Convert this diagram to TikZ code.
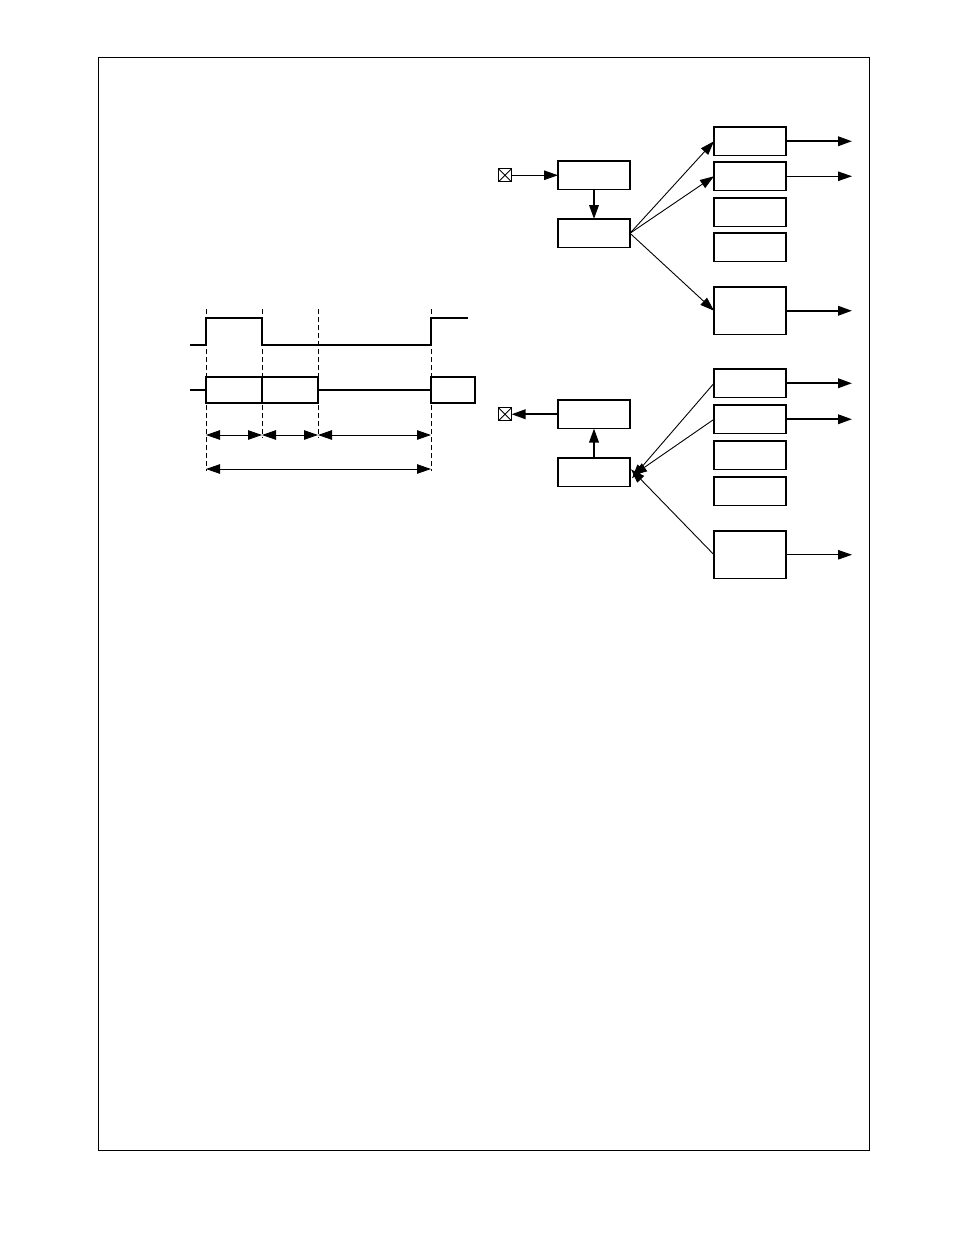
\documentclass[tikz,border=0pt]{standalone}
\usetikzlibrary{arrows.meta}
\begin{document}
\begin{tikzpicture}[x=1pt,y=-1pt,
  blk/.style={draw,line width=1.8pt,minimum width=72pt,minimum height=28.5pt,inner sep=0pt,outer sep=0pt,anchor=north west},
  tall/.style={blk,minimum height=47.5pt},
  thin/.style={line width=0.9pt},
  thick/.style={line width=2pt},
  arr/.style={-{Triangle[length=14pt,width=9.5pt]}},
  arrs/.style={{Triangle[length=14pt,width=9.5pt]}-{Triangle[length=14pt,width=9.5pt]}},
  dsh/.style={line width=0.7pt,dash pattern=on 5pt off 3pt},
  xbox/.style={draw,line width=1.1pt,minimum size=13pt,inner sep=0pt,outer sep=0pt,path picture={\draw[line width=0.9pt] (path picture bounding box.north west)--(path picture bounding box.south east) (path picture bounding box.north east)--(path picture bounding box.south west);}},
  wave/.style={line width=2.3pt}]
\useasboundingbox (0,0) rectangle (954,1235);
\draw[line width=1pt] (98,57) rectangle (869,1150);

% top block
\node[xbox] (x1) at (505,175.25) {};
\node[blk] (A) at (558,161) {};
\node[blk] (B) at (558,219) {};
\node[blk] (R1) at (714,127) {};
\node[blk] (R2) at (714,162) {};
\node[blk] (R3) at (714,198) {};
\node[blk] (R4) at (714,233) {};
\node[tall] (R5) at (714,287) {};
\coordinate (ex) at (852,0);
\draw[thin,arr] (x1.east) -- (A.west);
\draw[thick,arr] (A.south) -- (B.north);
\draw[thin,arr] (B.east) -- (R1.west);
\draw[thin,arr] (B.east) -- (R2.west);
\draw[thin,arr] (B.east) -- (R5.west);
\draw[thick,arr] (R1.east) -- (R1.east -| ex);
\draw[thin,arr] (R2.east) -- (R2.east -| ex);
\draw[thick,arr] (R5.east) -- (R5.east -| ex);

% bottom block
\node[xbox] (x2) at (505,414.25) {};
\node[blk] (C) at (558,400) {};
\node[blk] (D) at (558,458) {};
\node[blk] (S1) at (714,369) {};
\node[blk] (S2) at (714,405) {};
\node[blk] (S3) at (714,441) {};
\node[blk] (S4) at (714,477) {};
\node[tall] (S5) at (714,531) {};
\draw[thick,arr] (C.west) -- (x2.east);
\draw[thick,arr] (D.north) -- (C.south);
\draw[thin,arr] (S1.west) -- ([shift={(2pt,-6pt)}]D.east);
\draw[thin,arr] (S2.west) -- ([shift={(3pt,-3pt)}]D.east);
\draw[thin,arr] (S5.west) -- ([shift={(1pt,3pt)}]D.east);
\draw[thick,arr] (S1.east) -- (S1.east -| ex);
\draw[thick,arr] (S2.east) -- (S2.east -| ex);
\draw[thin,arr] (S5.east) -- (S5.east -| ex);

% timing diagram
\draw[wave] (190,345) -- (206,345) -- (206,318) -- (262,318) -- (262,345) -- (431,345) -- (431,318) -- (468,318);
\draw[wave] (190,390) -- (206,390);
\draw[wave] (206,377) rectangle (318,403);
\draw[wave] (262,377) -- (262,403);
\draw[wave] (318,390) -- (431,390);
\draw[wave] (431,377) rectangle (475,403);
\draw[dsh] (206,309) -- (206,471);
\draw[dsh] (262,309) -- (262,438);
\draw[dsh] (318,309) -- (318,438);
\draw[dsh] (431,309) -- (431,471);
\coordinate (a0) at (206,435);
\coordinate (a1) at (262,435);
\coordinate (a2) at (318,435);
\coordinate (a3) at (431,435);
\coordinate (b0) at (206,469);
\coordinate (b3) at (431,469);
\draw[thin,arrs] (a0) -- (a1);
\draw[thin,arrs] (a1) -- (a2);
\draw[thin,arrs] (a2) -- (a3);
\draw[thin,arrs] (b0) -- (b3);
\end{tikzpicture}
\end{document}
